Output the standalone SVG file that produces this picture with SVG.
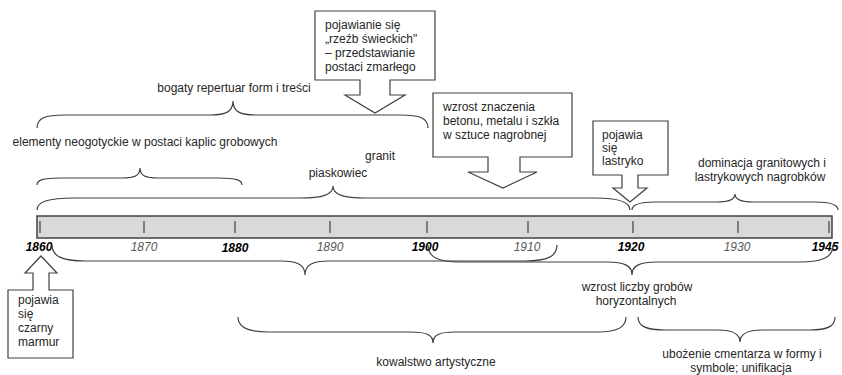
<svg xmlns="http://www.w3.org/2000/svg" width="842" height="375" viewBox="0 0 842 375">
<style>
text{font-family:"Liberation Sans",Arial,sans-serif;font-size:12px;fill:#262626}
.c{text-anchor:middle}
.yb{font-weight:bold;font-style:italic;fill:#000;text-anchor:middle}
.yn{font-style:italic;fill:#595959;text-anchor:middle}
.br{fill:none;stroke:#404040;stroke-width:1.2}
.box{fill:#fff;stroke:#404040;stroke-width:1.2}
.tick{stroke:#404040;stroke-width:1.2}
</style>
<rect width="842" height="375" fill="#fff"/>
<g id="timeline">
<rect x="37" y="216" width="795" height="22" fill="#d9d9d9" stroke="#404040" stroke-width="1.5"/>
<line class="tick" x1="40" y1="221" x2="40" y2="233"/>
<line class="tick" x1="144" y1="221" x2="144" y2="233"/>
<line class="tick" x1="235" y1="221" x2="235" y2="233"/>
<line class="tick" x1="330" y1="221" x2="330" y2="233"/>
<line class="tick" x1="427" y1="221" x2="427" y2="233"/>
<line class="tick" x1="528" y1="221" x2="528" y2="233"/>
<line class="tick" x1="633" y1="221" x2="633" y2="233"/>
<line class="tick" x1="738" y1="221" x2="738" y2="233"/>
<line class="tick" x1="829" y1="221" x2="829" y2="233"/>
<text class="yb" x="39" y="251">1860</text>
<text class="yn" x="144" y="251">1870</text>
<text class="yb" x="235" y="252">1880</text>
<text class="yn" x="330" y="251">1890</text>
<text class="yb" x="425" y="251">1900</text>
<text class="yn" x="527" y="251">1910</text>
<text class="yb" x="631" y="251">1920</text>
<text class="yn" x="737" y="251">1930</text>
<text class="yb" x="825" y="251">1945</text>
</g>
<g id="connectors">
<path class="br" d="M37,128 C37,118 45,115 65,115 L211,115 C225,115 233,112 233,101 C233,112 241,115 255,115 L400,115 C420,115 428,118 428,128"/>
<path class="br" d="M37,185 C37,180 43,178 60,178 L122,178 C134,178 140,176 140,168 C140,176 146,178 158,178 L219,178 C236,178 242,180 242,185"/>
<path class="br" d="M37,210 C37,202 47,198 75,198 L300,198 C322,198 333,195 333,186 C333,195 344,198 366,198 L595,198 C620,198 630,202 630,210"/>
<path class="br" d="M632,210 C632,205 638,202 655,202 L717,202 C729,202 735,200 735,194 C735,200 741,202 753,202 L815,202 C832,202 838,205 838,210"/>
<path class="br" d="M52,245 C52,256 62,261 85,261 L280,261 C298,261 305,265 305,275 C305,265 312,261 330,261 L525,261 C548,261 557,256 557,245"/>
<path class="br" d="M428,245 C428,257 438,262 460,262 L607,262 C625,262 632,266 632,275 C632,266 639,262 657,262 L800,262 C823,262 833,257 833,245"/>
<path class="br" d="M238,317 C238,327 248,332 268,332 L410,332 C427,332 433,335 433,343 C433,335 439,332 456,332 L598,332 C618,332 626,327 626,317"/>
<path class="br" d="M638,317 C638,326 646,330 665,330 L718,330 C733,330 740,334 740,342 C740,334 747,330 762,330 L810,330 C828,330 835,326 835,317"/>
</g>
<g id="label-bogaty"><text class="c" x="234" y="92">bogaty repertuar form i treści</text></g>
<g id="label-neogotyckie"><text class="c" x="145" y="146">elementy neogotyckie w postaci kaplic grobowych</text></g>
<g id="label-granit"><text class="c" x="380" y="160">granit</text></g>
<g id="label-piaskowiec"><text class="c" x="338" y="177">piaskowiec</text></g>
<g id="label-dominacja"><text class="c" x="762" y="167">dominacja granitowych i</text><text class="c" x="760" y="181">lastrykowych nagrobków</text></g>
<g id="label-wzrost-liczby"><text class="c" x="637" y="291">wzrost liczby grobów</text><text class="c" x="636" y="305">horyzontalnych</text></g>
<g id="label-kowalstwo"><text class="c" x="436" y="366">kowalstwo artystyczne</text></g>
<g id="label-ubozenie"><text class="c" x="742" y="358">ubożenie cmentarza w formy i</text><text class="c" x="741" y="372">symbole; unifikacja</text></g>
<g id="callout-rzezb">
<path class="box" d="M315,11 H435 V80 H390 V95 H405 L375,113 L345,95 H360 V80 H315 Z"/>
<text x="325" y="29">pojawianie się</text>
<text x="325" y="43">„rzeźb świeckich"</text>
<text x="325" y="57">– przedstawianie</text>
<text x="325" y="71">postaci zmarłego</text>
</g>
<g id="callout-beton">
<path class="box" d="M433,93 H572 V157 H520 V172 H537 L503,188 L468,172 H488 V157 H433 Z"/>
<text x="443" y="111">wzrost znaczenia</text>
<text x="443" y="125">betonu, metalu i szkła</text>
<text x="443" y="139">w sztuce nagrobnej</text>
</g>
<g id="callout-lastryko">
<path class="box" d="M593,121 H668 V175 H638 V188 H647 L630,202 L613,188 H622 V175 H593 Z"/>
<text x="602" y="139">pojawia</text>
<text x="602" y="152">się</text>
<text x="602" y="165">lastryko</text>
</g>
<g id="callout-marmur">
<path class="box" d="M41,256 L57,273 H49 V290 H73 V358 H8 V290 H33 V273 H25 Z"/>
<text x="18" y="304">pojawia</text>
<text x="18" y="318">się</text>
<text x="18" y="332">czarny</text>
<text x="18" y="346">marmur</text>
</g>
</svg>
